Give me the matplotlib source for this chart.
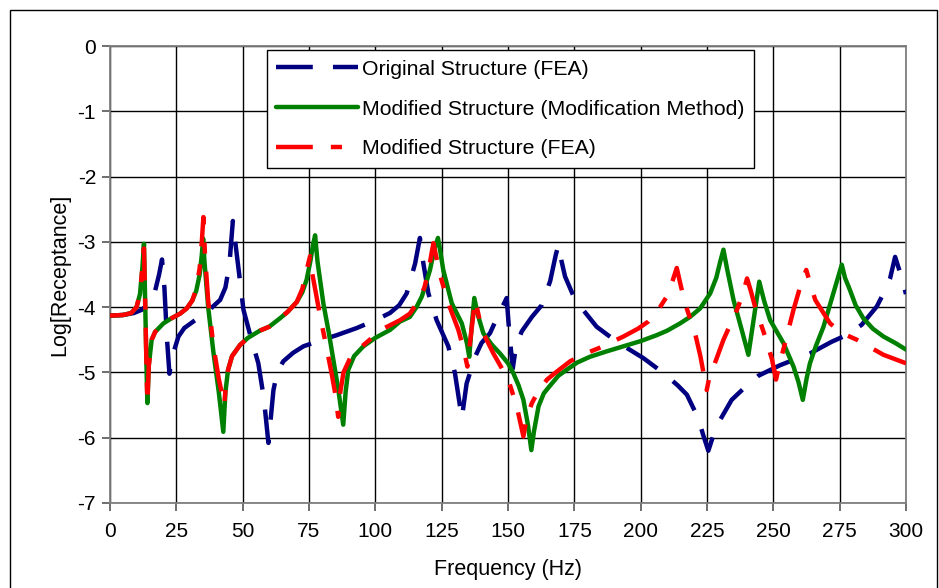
import numpy as np
import matplotlib
matplotlib.use("Agg")
import matplotlib.pyplot as plt
from matplotlib.patches import Rectangle

plt.rcParams['font.family'] = ['Liberation Sans', 'DejaVu Sans']
plt.rcParams['lines.scale_dashes'] = False
plt.rcParams['axes.unicode_minus'] = False

# ── data (frequency in Hz, log receptance) ──
orig_f = [0, 5, 9, 12, 15, 17, 18.5, 19.6, 20.5, 21.5, 22.4, 23.5, 25.8, 28, 31.4, 35,
          38, 41.5, 43.5, 45, 46.3, 47.5, 49, 50.3, 53, 55.9, 58, 59.7, 61.6, 63, 65.3,
          69, 72.9, 80, 85.4, 93, 100, 105.5, 109, 111.8, 115, 116.8, 118.1, 120, 123.1,
          127.5, 130, 132.6, 134.4, 137.6, 140, 143.2, 146, 149.5, 150.5, 151.8, 153,
          155.2, 159, 162.7, 165.9, 168, 169, 170.2, 171.5, 175.3, 183.4, 191, 201,
          208.6, 214, 217.4, 221.7, 223.5, 225.5, 227.5, 229.9, 234.3, 240, 244.4,
          252.5, 263.8, 272, 278, 283.3, 289, 292, 294, 295.9, 298, 300]
orig_v = [-4.13, -4.12, -4.09, -4.04, -3.93, -3.75, -3.5, -3.27, -3.7, -4.5, -5.02, -4.75,
          -4.45, -4.32, -4.22, -4.12, -4.02, -3.89, -3.7, -3.35, -2.68, -3.1, -3.6, -4.04,
          -4.45, -4.86, -5.4, -6.08, -5.27, -5.0, -4.83, -4.7, -4.6, -4.5, -4.43, -4.32,
          -4.2, -4.09, -3.97, -3.79, -3.33, -2.94, -3.33, -3.79, -4.2, -4.6, -5.01, -5.7,
          -5.17, -4.76, -4.55, -4.4, -4.15, -3.86, -4.4, -4.94, -4.6, -4.37, -4.15, -3.97,
          -3.6, -3.2, -3.05, -3.3, -3.53, -3.89, -4.3, -4.53, -4.78, -5.01, -5.2, -5.34,
          -5.7, -5.95, -6.2, -5.95, -5.73, -5.42, -5.2, -5.05, -4.89, -4.71, -4.53, -4.42,
          -4.27, -3.99, -3.75, -3.56, -3.23, -3.5, -3.8]

mm_f = [0, 5, 8, 10, 11.3, 12.2, 12.8, 13.3, 13.8, 14.1, 14.6, 15.7, 17, 20.1, 23.2, 26.4,
        28.9, 31, 32.5, 33.8, 34.6, 35.1, 35.6, 37, 39, 41, 42.7, 43.5, 44.5, 46, 49, 52,
        56.5, 60, 64.1, 67, 70.4, 72.5, 74.1, 75.5, 76.5, 77.3, 78.2, 80.4, 82.5, 84.2, 86,
        87.9, 88.8, 89.8, 92, 95.5, 100, 105.5, 109.3, 113, 115.5, 117.5, 119, 120.6,
        122.3, 123.6, 124.5, 125.6, 128.8, 132.6, 134.5, 135.4, 136.3, 137.3, 138.5,
        140.7, 144, 147, 150, 152, 154, 155.8, 157.5, 158.8, 159.8, 161.5, 163.5, 165.9,
        169, 172.1, 176, 180.9, 187, 193.5, 200, 206, 210, 214.8, 218.6, 222.4, 226.2,
        228.5, 230, 231.2, 232.5, 235, 238.1, 240.6, 242, 243.1, 244.7, 246.5, 248.8,
        253.8, 257.6, 259.5, 261.1, 262.5, 263.8, 266, 268.9, 272.6, 274.3, 275.8, 277,
        278.9, 281, 283.9, 287.5, 291.5, 296, 300]
mm_v = [-4.13, -4.12, -4.09, -4.0, -3.8, -3.4, -3.03, -4.0, -5.0, -5.47, -4.9, -4.5, -4.38,
        -4.25, -4.17, -4.1, -4.02, -3.9, -3.75, -3.5, -3.2, -2.95, -3.3, -4.0, -4.7, -5.3,
        -5.91, -5.3, -4.96, -4.75, -4.58, -4.47, -4.36, -4.3, -4.17, -4.07, -3.92, -3.77,
        -3.58, -3.3, -3.05, -2.9, -3.3, -3.94, -4.4, -4.81, -5.25, -5.8, -5.3, -4.96,
        -4.75, -4.6, -4.47, -4.35, -4.22, -4.15, -4.0, -3.84, -3.65, -3.43, -3.1, -2.94,
        -3.15, -3.43, -3.94, -4.25, -4.55, -4.76, -4.3, -3.86, -4.1, -4.4, -4.58, -4.71,
        -4.86, -5.01, -5.2, -5.42, -5.8, -6.19, -5.9, -5.52, -5.32, -5.2, -5.05, -4.96,
        -4.85, -4.76, -4.68, -4.6, -4.52, -4.43, -4.36, -4.25, -4.15, -4.02, -3.79, -3.55,
        -3.3, -3.12, -3.4, -3.89, -4.35, -4.73, -4.35, -4.04, -3.61, -3.9, -4.2, -4.55,
        -4.91, -5.15, -5.42, -5.1, -4.86, -4.6, -4.3, -3.79, -3.55, -3.35, -3.55, -3.74,
        -3.97, -4.17, -4.33, -4.45, -4.55, -4.65]

mod_f = [0, 5, 8, 10, 11.3, 12.2, 12.8, 13.3, 13.8, 14.1, 14.6, 15.7, 17, 20.1, 23.2, 26.4,
         28.9, 31, 32.5, 33.8, 34.6, 35.2, 35.8, 37, 39, 41, 43.1, 43.8, 44.5, 46, 49, 52,
         56.5, 60, 64.1, 67, 70.4, 72.5, 74, 75.4, 76.3, 79.2, 81.5, 83.5, 85, 86, 86.8,
         88, 90.5, 95, 99.3, 103, 109.3, 113, 116, 118.5, 120, 121.3, 121.9, 122.8, 124.4,
         127.5, 131.3, 133.3, 134.7, 135.8, 137.6, 138.8, 140.1, 144.5, 150.1, 153.3,
         155.8, 157, 159, 161.5, 164.7, 168, 173.4, 178, 184.1, 193.5, 199, 202.9, 206.5,
         209.8, 212, 213.6, 215, 216.7, 220.5, 222.5, 224.9, 226, 227.5, 231.2, 236.3,
         238.5, 240.1, 241.5, 243.1, 246.9, 249.5, 251, 252.5, 254.4, 257.6, 260.1,
         262.4, 264, 265.8, 271.4, 276, 281.5, 291.5, 300]
mod_v = [-4.13, -4.12, -4.09, -4.0, -3.8, -3.4, -3.1, -4.0, -5.0, -5.47, -4.9, -4.5, -4.38,
         -4.25, -4.17, -4.1, -4.02, -3.9, -3.72, -3.4, -3.0, -2.62, -3.2, -3.9, -4.6, -5.1,
         -5.5, -5.1, -4.96, -4.75, -4.58, -4.47, -4.36, -4.3, -4.17, -4.07, -3.92, -3.72,
         -3.45, -3.22, -3.5, -4.14, -4.6, -5.01, -5.35, -5.68, -5.3, -5.0, -4.78, -4.6,
         -4.45, -4.33, -4.2, -4.1, -3.92, -3.7, -3.45, -3.15, -3.02, -3.2, -3.51, -3.94,
         -4.35, -4.65, -4.91, -4.5, -3.89, -4.1, -4.35, -4.71, -5.11, -5.52, -5.98, -5.7,
         -5.47, -5.28, -5.11, -5.0, -4.83, -4.73, -4.63, -4.45, -4.33, -4.22, -4.05, -3.84,
         -3.6, -3.4, -3.65, -3.94, -4.4, -4.75, -5.27, -5.05, -4.91, -4.5, -4.04, -3.8,
         -3.56, -3.75, -3.99, -4.45, -4.8, -5.11, -4.85, -4.55, -4.04, -3.69, -3.43, -3.65,
         -3.89, -4.25, -4.4, -4.5, -4.73, -4.86]

labels = ["Original Structure (FEA)",
          "Modified Structure (Modification Method)",
          "Modified Structure (FEA)"]

# ── figure ──
fig = plt.figure(figsize=(9.39, 5.88), dpi=100)
ax = fig.add_axes([110/939, 1 - 503/588, 796/939, 457/588])

ax.plot(orig_f, orig_v, color="#000080", lw=3.2, dashes=(26.5, 14.5),
        dash_capstyle="butt", label=labels[0], zorder=3)
ax.plot(mm_f, mm_v, color="#008000", lw=3.2, solid_capstyle="round",
        label=labels[1], zorder=4)
ax.plot(mod_f, mod_v, color="#FF0000", lw=3.2, dashes=(26.5, 13, 8, 13),
        dash_capstyle="butt", label=labels[2], zorder=5)

ax.set_xlim(0, 300)
ax.set_ylim(-7, 0)
ax.set_xticks(np.arange(0, 301, 25))
ax.set_yticks(np.arange(-7, 0.5, 1))
ax.grid(True, color="black", lw=1.0)
ax.set_axisbelow(True)
for s in ax.spines.values():
    s.set_color("#7f7f7f")
    s.set_linewidth(1.3)
ax.tick_params(direction="out", length=6, width=1.2, color="#555555",
               labelsize=15)
ax.tick_params(axis="y", pad=4)
ax.tick_params(axis="x", pad=8)

ax.set_xlabel("Frequency (Hz)", fontsize=15.5, labelpad=13)
ax.set_ylabel("Log[Receptance]", fontsize=15.5, labelpad=5)

leg = ax.legend(loc="upper left", bbox_to_anchor=(0.197, 0.991), fontsize=15.3,
                frameon=True, fancybox=False, edgecolor="black", framealpha=1,
                handlelength=3.85, handletextpad=0.2, labelspacing=0.98,
                borderpad=0.45, borderaxespad=0)
leg.get_frame().set_linewidth(1.0)

# outer chart frame
fig.add_artist(Rectangle((10/939, -0.02), 927/939, 1.02 - 10/588,
                         transform=fig.transFigure, fill=False,
                         edgecolor="black", lw=1.0))

fig.savefig("out.png", dpi=100)
